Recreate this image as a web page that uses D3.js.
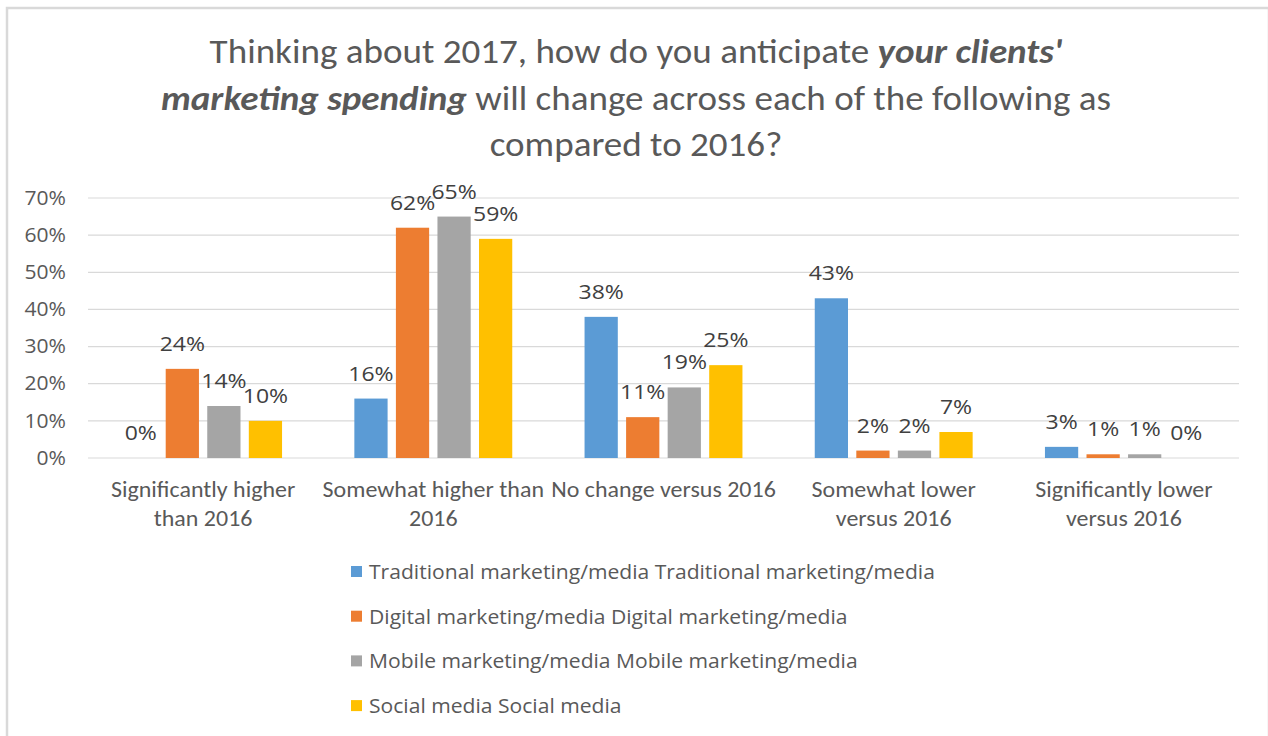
<!DOCTYPE html>
<html>
<head>
<meta charset="utf-8">
<script src="https://cdn.jsdelivr.net/npm/d3@7"></script>
<style>
  html, body { margin: 0; padding: 0; background: #fff; }
  svg { display: block; }
</style>
</head>
<body>
<svg id="chart" width="1268" height="736"></svg>
<script>
// Survey answers: change in clients' marketing spending, 2017 vs 2016
const categories = [
  "Significantly higher than 2016",
  "Somewhat higher than 2016",
  "No change versus 2016",
  "Somewhat lower versus 2016",
  "Significantly lower versus 2016"
];
const categoryLines = [
  ["Significantly higher", "than 2016"],
  ["Somewhat higher than", "2016"],
  ["No change versus 2016"],
  ["Somewhat lower", "versus 2016"],
  ["Significantly lower", "versus 2016"]
];
const seriesNames = [
  "Traditional marketing/media Traditional marketing/media",
  "Digital marketing/media Digital marketing/media",
  "Mobile marketing/media Mobile marketing/media",
  "Social media Social media"
];
const traditional = [0, 16, 38, 43, 3];
const digital     = [24, 62, 11, 2, 1];
const mobile      = [14, 65, 19, 2, 1];
const social      = [10, 59, 25, 7, 0];
const yTicks = [0, 10, 20, 30, 40, 50, 60, 70];
const colors = ["#5B9BD5", "#ED7D31", "#A5A5A5", "#FFC000"];

const seriesValues = [traditional, digital, mobile, social];

const svg = d3.select("#chart");
const W = 1268, H = 736;
const narrowFont = "Carlito, Calibri, 'Liberation Sans Narrow', sans-serif";
const uiFont = "'Segoe UI', 'Open Sans', 'Noto Sans', sans-serif";
const textColor = "#595959";

// Places a text at (x, y) with a slight horizontal stretch
const placeText = (sel, x, y, sx) =>
  sel.attr("transform", `translate(${x},${y}) scale(${sx},1)`);

// Chart frame
svg.append("rect").attr("x", 7).attr("y", 8).attr("width", W - 6).attr("height", H)
  .attr("fill", "#fff").attr("stroke", "#D9D9D9").attr("stroke-width", 2.5);

// Title with bold-italic emphasis
const titleLines = [
  [["Thinking about 2017, how do you anticipate ", false], ["your clients'", true]],
  [["marketing spending", true], [" will change across each of the following as", false]],
  [["compared to 2016?", false]]
];
titleLines.forEach((parts, i) => {
  const line = svg.append("text")
    .attr("text-anchor", "middle")
    .attr("font-family", narrowFont)
    .attr("font-size", 34)
    .attr("fill", textColor);
  placeText(line, 636, 63 + i * 46.5, 1.09);
  parts.forEach(([t, em]) => {
    line.append("tspan")
      .attr("font-weight", em ? "bold" : null)
      .attr("font-style", em ? "italic" : null)
      .text(t);
  });
});

// Plot area
const plot = { left: 88, right: 1239, top: 198, bottom: 458 };

const y = d3.scaleLinear().domain([0, 70]).range([plot.bottom, plot.top]);
const x0 = d3.scaleBand().domain(categories).range([plot.left, plot.right]).padding(0);
const x1 = d3.scaleBand().domain(seriesNames).range([0, x0.bandwidth()])
  .paddingInner(0.2).paddingOuter(0.87);

// Gridlines
svg.append("g")
  .selectAll("line").data(yTicks).join("line")
  .attr("x1", plot.left).attr("x2", plot.right)
  .attr("y1", d => y(d)).attr("y2", d => y(d))
  .attr("stroke", "#D9D9D9").attr("stroke-width", 1.2);

// Y axis labels
const yAxis = svg.append("g")
  .attr("transform", `translate(${plot.left - 22},0)`)
  .call(d3.axisLeft(y).tickValues(yTicks).tickFormat(d => d + "%").tickSize(0).tickPadding(0));
yAxis.select(".domain").remove();
yAxis.selectAll("text")
  .attr("font-family", uiFont).attr("font-size", 19.5).attr("fill", textColor)
  .attr("transform", "scale(1.08,1)");

// Bars and value labels
const groups = svg.append("g").selectAll("g").data(categories).join("g")
  .attr("transform", d => `translate(${x0(d)},0)`);

groups.each(function(cat, ci) {
  const g = d3.select(this);
  seriesNames.forEach((s, si) => {
    const v = seriesValues[si][ci];
    g.append("rect")
      .attr("x", x1(s)).attr("width", x1.bandwidth())
      .attr("y", y(v)).attr("height", y(0) - y(v))
      .attr("fill", colors[si]);
    const lbl = g.append("text")
      .attr("text-anchor", "middle")
      .attr("font-family", uiFont).attr("font-size", 20)
      .attr("fill", "#404040")
      .text(v + "%");
    placeText(lbl, x1(s) + x1.bandwidth() / 2, y(v) - 18, 1.15);
  });
});

// Category labels
categories.forEach((d, i) => {
  categoryLines[i].forEach((ln, li) => {
    const t = svg.append("text")
      .attr("text-anchor", "middle")
      .attr("font-family", narrowFont).attr("font-size", 22)
      .attr("fill", textColor)
      .text(ln);
    placeText(t, x0(d) + x0.bandwidth() / 2, 497 + li * 29, 1.09);
  });
});

// Legend
const legend = svg.append("g").selectAll("g").data(seriesNames).join("g")
  .attr("transform", (d, i) => `translate(351,${572 + i * 44.7})`);
legend.append("rect").attr("x", 0).attr("y", -6).attr("width", 11).attr("height", 11)
  .attr("fill", (d, i) => colors[i]);
legend.append("text")
  .attr("font-family", uiFont).attr("font-size", 20)
  .attr("fill", textColor)
  .attr("dy", "0.35em")
  .attr("transform", "translate(18,0) scale(1.055,1)")
  .text(d => d);
</script>
</body>
</html>
